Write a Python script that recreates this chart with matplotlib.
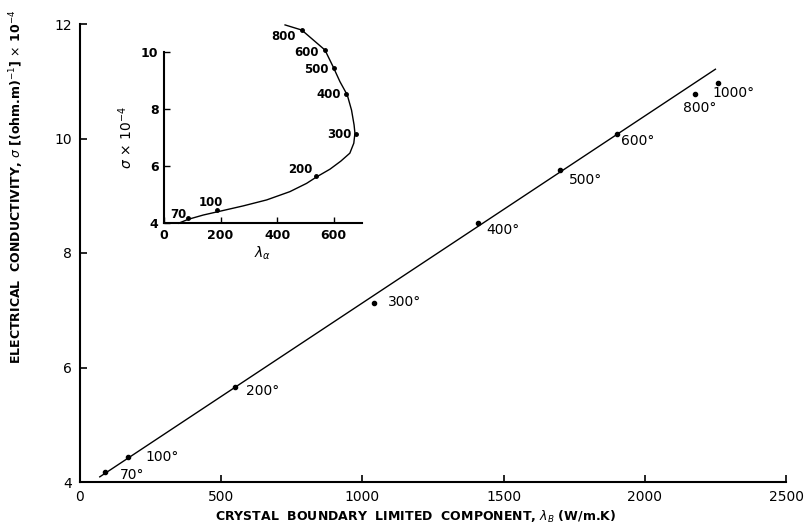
import matplotlib
matplotlib.use("Agg")
import matplotlib.pyplot as plt

plt.rcParams['font.family'] = 'DejaVu Sans'
plt.rcParams['mathtext.fontset'] = 'dejavusans'

# temperatures (K) and measured values
temps = [70, 100, 200, 300, 400, 500, 600, 800, 1000]
lam_b = [88, 170, 548, 1040, 1408, 1699, 1900, 2176, 2258]
sigma = [4.17, 4.44, 5.66, 7.12, 8.52, 9.45, 10.07, 10.78, 10.97]
lam_a = [86, 187, 536, 680, 644, 600, 569, 487]

# straight line through the main data
fit_x = [70, 2250]
fit_y = [4.09, 11.21]

# hand-drawn curve through the inset data
curve_x = [51, 86, 139, 192, 280, 363, 445, 504, 540, 587, 625, 657, 671, 675,
           672, 663, 648, 622, 598, 569, 528, 487, 428]
curve_y = [3.99, 4.13, 4.28, 4.40, 4.60, 4.81, 5.10, 5.39, 5.62, 5.89, 6.17, 6.45,
           6.80, 7.15, 7.44, 7.96, 8.49, 8.96, 9.48, 10.07, 10.42, 10.77, 10.95]

# label offsets in pixels
main_off = [(15, -3), (17, 0), (11, -4), (14, 1), (9, -7), (9, -10), (4, -7), (-12, -14), (-5, -10)]
inset_off = [(-2, 4), (6, 8), (-3, 6), (-5, 0), (-5, 0), (-5, -2), (-6, -2), (-6, -7)]

W, H = 805, 529
fig = plt.figure(figsize=(W / 100, H / 100), dpi=100)

ax = fig.add_axes([80 / W, (H - 482) / H, 706 / W, 458 / H])
ax.plot(fit_x, fit_y, color='black', lw=1.0)
ax.plot(lam_b, sigma, 'o', color='black', ms=3)
for t, x, y, (dx, dy) in zip(temps, lam_b, sigma, main_off):
    ax.annotate(f"{t}°", (x, y), xytext=(dx * 0.72, dy * 0.72), textcoords='offset points',
                ha='left', va='center', fontsize=10)
ax.set_xlim(0, 2500)
ax.set_ylim(4, 12)
ax.set_xticks([0, 500, 1000, 1500, 2000, 2500])
ax.set_yticks([4, 6, 8, 10, 12])
ax.spines['top'].set_visible(False)
ax.spines['right'].set_visible(False)
ax.spines['left'].set_linewidth(1.5)
ax.spines['bottom'].set_linewidth(1.5)
ax.tick_params(direction='in', length=5, width=1.2, labelsize=10, pad=6)
fig.text(416 / W, 1 - 517 / H,
         r"CRYSTAL  BOUNDARY  LIMITED  COMPONENT, $\lambda_B$ (W/m.K)",
         ha='center', va='center', fontsize=9, fontweight='bold')
fig.text(17 / W, 1 - 187 / H,
         r"ELECTRICAL  CONDUCTIVITY, $\sigma$ [(ohm.m)$^{-1}$] $\times$ 10$^{-4}$",
         rotation=90, ha='center', va='center', fontsize=9, fontweight='bold')

# inset: sigma against the other component
ins = fig.add_axes([164 / W, (H - 223) / H, 198 / W, 171 / H])
ins.plot(curve_x, curve_y, color='black', lw=1.0, clip_on=False, solid_joinstyle='round')
ins.plot(lam_a, sigma[:8], 'o', color='black', ms=2.5, clip_on=False)
for t, x, y, (dx, dy) in zip(temps, lam_a, sigma, inset_off):
    ins.annotate(str(t), (x, y), xytext=(dx * 0.72, dy * 0.72), textcoords='offset points',
                 ha='right', va='center', fontsize=8.5, fontweight='bold',
                 annotation_clip=False)
ins.set_xlim(0, 700)
ins.set_ylim(4, 10)
ins.set_xticks([0, 200, 400, 600])
ins.set_yticks([4, 6, 8, 10])
ins.patch.set_alpha(0)
ins.spines['top'].set_visible(False)
ins.spines['right'].set_visible(False)
ins.spines['left'].set_linewidth(1.5)
ins.spines['bottom'].set_linewidth(1.5)
ins.tick_params(direction='in', length=4, width=1.0, labelsize=9, pad=4)
for lbl in ins.get_xticklabels() + ins.get_yticklabels():
    lbl.set_fontweight('bold')
ins.set_xlabel(r"$\lambda_\alpha$", fontsize=10, labelpad=2)
ins.set_ylabel(r"$\sigma$ $\times$ 10$^{-4}$", fontsize=10, labelpad=4)

fig.savefig("out.png", dpi=100)
